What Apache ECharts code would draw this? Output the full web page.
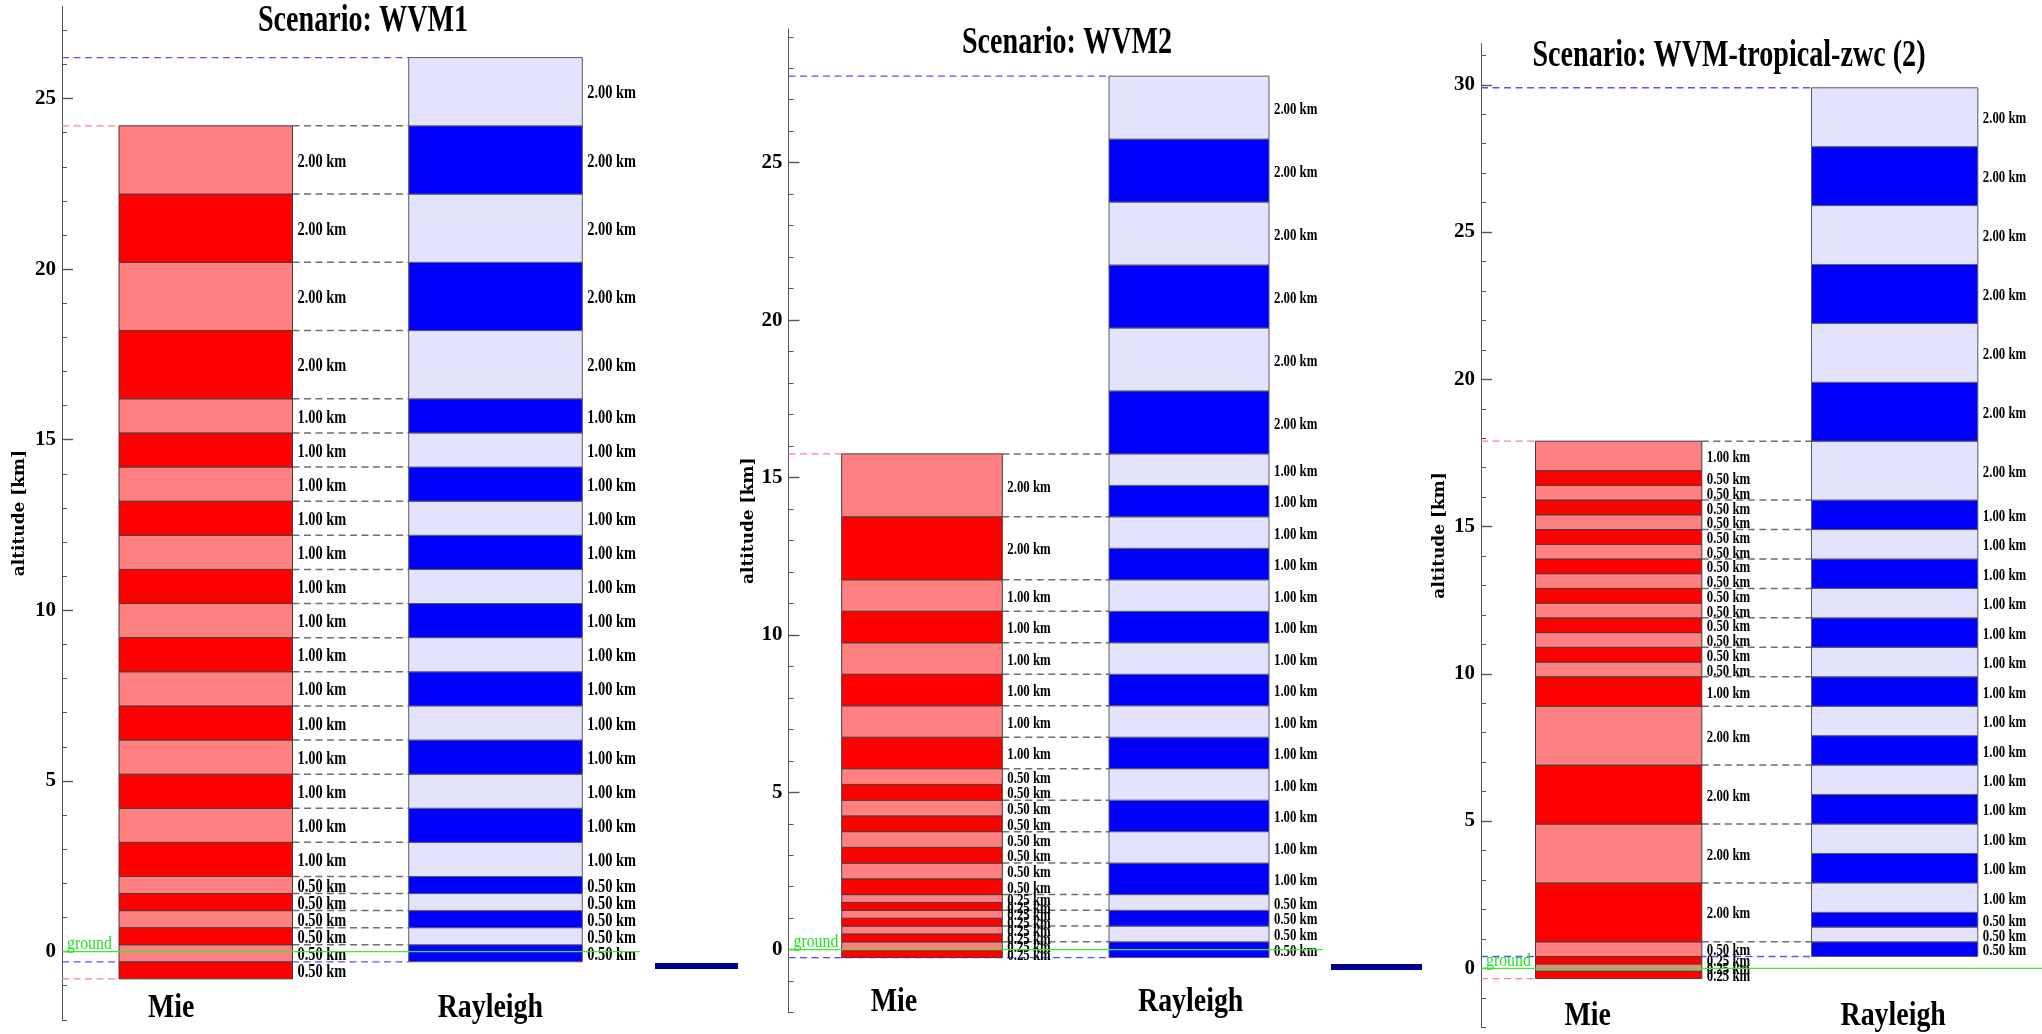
<!DOCTYPE html>
<html>
<head>
<meta charset="utf-8">
<title>Range-bin settings</title>
<script src="https://cdn.jsdelivr.net/npm/echarts@6/dist/echarts.min.js"></script>
<style>
  html, body { margin: 0; padding: 0; background: #ffffff; }
  #chart { width: 2042px; height: 1034px; }
</style>
</head>
<body>
<div id="chart"></div>
<script>
// ---------------------------------------------------------------------------
// Range-bin layers per scenario: thickness of each bin in km, lowest bin first,
// plus the altitude of the lowest bin edge.
// ---------------------------------------------------------------------------
const scenarioTitles = ['Scenario: WVM1', 'Scenario: WVM2', 'Scenario: WVM-tropical-zwc (2)'];
const columnNames = ['Mie', 'Rayleigh'];
const axisTitle = 'altitude [km]';
const groundLabel = 'ground';
const groundAltitude = 0;

const wvm1MieBase = -0.8;
const wvm1MieLayers = [0.5, 0.5, 0.5, 0.5, 0.5, 0.5,
  1, 1, 1, 1, 1, 1, 1, 1, 1, 1, 1, 1, 1, 1,
  2, 2, 2, 2];
const wvm1RayleighBase = -0.3;
const wvm1RayleighLayers = [0.5, 0.5, 0.5, 0.5, 0.5,
  1, 1, 1, 1, 1, 1, 1, 1, 1, 1, 1, 1, 1, 1,
  2, 2, 2, 2, 2];

const wvm2MieBase = -0.25;
const wvm2MieLayers = [0.25, 0.25, 0.25, 0.25, 0.25, 0.25, 0.25, 0.25,
  0.5, 0.5, 0.5, 0.5, 0.5, 0.5, 0.5, 0.5,
  1, 1, 1, 1, 1, 1,
  2, 2];
const wvm2RayleighBase = -0.25;
const wvm2RayleighLayers = [0.5, 0.5, 0.5, 0.5,
  1, 1, 1, 1, 1, 1, 1, 1, 1, 1, 1, 1, 1, 1,
  2, 2, 2, 2, 2, 2];

const tropicalMieBase = -0.35;
const tropicalMieLayers = [0.25, 0.25, 0.25, 0.5,
  2, 2, 2, 2,
  1,
  0.5, 0.5, 0.5, 0.5, 0.5, 0.5, 0.5, 0.5, 0.5, 0.5, 0.5, 0.5, 0.5, 0.5,
  1];
const tropicalRayleighBase = 0.4;
const tropicalRayleighLayers = [0.5, 0.5, 0.5,
  1, 1, 1, 1, 1, 1, 1, 1, 1, 1, 1, 1, 1, 1,
  2, 2, 2, 2, 2, 2, 2];

// Axis ticks (km)
const wvm1MinorTicks = [-2, -1, 0, 1, 2, 3, 4, 5, 6, 7, 8, 9, 10, 11, 12, 13, 14, 15, 16, 17, 18, 19, 20, 21, 22, 23, 24, 25, 26, 27];
const wvm1MajorTicks = [0, 5, 10, 15, 20, 25];
const wvm2MinorTicks = [-2, -1, 0, 1, 2, 3, 4, 5, 6, 7, 8, 9, 10, 11, 12, 13, 14, 15, 16, 17, 18, 19, 20, 21, 22, 23, 24, 25, 26, 27, 28, 29];
const wvm2MajorTicks = [0, 5, 10, 15, 20, 25];
const tropicalMinorTicks = [-2, -1, 0, 1, 2, 3, 4, 5, 6, 7, 8, 9, 10, 11, 12, 13, 14, 15, 16, 17, 18, 19, 20, 21, 22, 23, 24, 25, 26, 27, 28, 29, 30, 31];
const tropicalMajorTicks = [0, 5, 10, 15, 20, 25, 30];

// ---------------------------------------------------------------------------
// Layout of the three panels (pixels; x positions relative to the axis line)
// ---------------------------------------------------------------------------
const panels = [
  {
    grid: { left: 62, top: 6.4, width: 600, height: 1013.4 }, yMin: -2, yMax: 27.7,
    mieX: [57, 230.5], rayX: [346.7, 520.3], groundEnd: 578, labelSize: 18,
    titlePos: [363, 21], nameY: 1008, axisNameX: 20,
    mie: [wvm1MieBase, wvm1MieLayers], ray: [wvm1RayleighBase, wvm1RayleighLayers],
    minor: wvm1MinorTicks, major: wvm1MajorTicks
  },
  {
    grid: { left: 788.5, top: 28.9, width: 600, height: 983.75 }, yMin: -2, yMax: 29.25,
    mieX: [53.2, 213.8], rayX: [320.5, 480.5], groundEnd: 534.5, labelSize: 16,
    titlePos: [1067, 43], nameY: 1002, axisNameX: 749,
    mie: [wvm2MieBase, wvm2MieLayers], ray: [wvm2RayleighBase, wvm2RayleighLayers],
    minor: wvm2MinorTicks, major: wvm2MajorTicks
  },
  {
    grid: { left: 1481, top: 43.6, width: 561, height: 983.6 }, yMin: -2, yMax: 31.4,
    mieX: [54.5, 220.8], rayX: [330.5, 496.8], groundEnd: 561, labelSize: 16,
    titlePos: [1729, 56], nameY: 1016, axisNameX: 1440,
    mie: [tropicalMieBase, tropicalMieLayers], ray: [tropicalRayleighBase, tropicalRayleighLayers],
    minor: tropicalMinorTicks, major: tropicalMajorTicks
  }
];

const MIE_COLORS = { dark: '#FF0000', light: '#FF8080', edge: '#4A3A3A' };
const RAY_COLORS = { dark: '#0000FF', light: '#E3E3FB', edge: '#5A5A6A' };
const SERIF = '"Liberation Serif", "Times New Roman", serif';
const NARROW = 0.8;   // horizontal squeeze used for the serif annotations

// bin edges from a base altitude and a list of thicknesses
function edges(base, layers) {
  const out = [+base.toFixed(3)];
  let h = base;
  layers.forEach(t => { h += t; out.push(+h.toFixed(3)); });
  return out;
}
// one row per bin: [bottom, top, thickness]
function layerRows(base, layers) {
  const e = edges(base, layers);
  return layers.map((t, i) => [e[i], e[i + 1], t]);
}
// dashed level lines: kind 0 = shared edge (grey), 1 = Mie limits (red), 2 = Rayleigh limits (blue)
function levelRows(mie, ray) {
  const me = edges(mie[0], mie[1]);
  const re = edges(ray[0], ray[1]);
  const rows = [];
  me.forEach(h => {
    if (re.some(r => Math.abs(r - h) < 1e-6) && Math.abs(h - re[0]) > 1e-6) rows.push([h, 0]);
  });
  rows.push([me[0], 1], [me[me.length - 1], 1], [re[0], 2], [re[re.length - 1], 2]);
  return rows;
}

function columnRenderer(p, xr, colors) {
  return function (params, api) {
    const y0 = api.value(0), y1 = api.value(1), th = api.value(2);
    const tl = api.coord([xr[0], y1]);
    const br = api.coord([xr[1], y0]);
    const fill = params.dataIndex % 2 === 0 ? colors.dark : colors.light;
    return {
      type: 'group',
      children: [
        {
          type: 'rect',
          shape: { x: tl[0], y: tl[1], width: br[0] - tl[0], height: br[1] - tl[1] },
          style: { fill: fill, stroke: colors.edge, lineWidth: 1 }
        },
        {
          type: 'text',
          x: br[0] + 5, y: (tl[1] + br[1]) / 2 + 2,
          scaleX: NARROW,
          z2: 10,
          style: {
            text: th.toFixed(2) + ' km',
            font: 'bold ' + p.labelSize + 'px ' + SERIF,
            fill: '#000000',
            align: 'left', textAlign: 'left',
            verticalAlign: 'middle', textVerticalAlign: 'middle'
          }
        }
      ]
    };
  };
}

function levelRenderer(p) {
  return function (params, api) {
    const h = api.value(0), kind = api.value(1);
    let xa, xb, color, w;
    if (kind === 0) { xa = p.mieX[1]; xb = p.rayX[0]; color = '#6E6E6E'; w = 1.5; }
    else if (kind === 1) { xa = 0; xb = p.mieX[0]; color = '#FF8484'; w = 1.3; }
    else { xa = 0; xb = p.rayX[0]; color = '#5555FF'; w = 1.3; }
    const a = api.coord([xa, h]), b = api.coord([xb, h]);
    return {
      type: 'line',
      shape: { x1: a[0], y1: a[1], x2: b[0], y2: b[1] },
      style: { stroke: color, lineWidth: w, lineDash: [7, 4.5] }
    };
  };
}

function groundRenderer(p) {
  return function (params, api) {
    const h = api.value(0);
    const a = api.coord([0, h]), b = api.coord([p.groundEnd, h]);
    return {
      type: 'group',
      children: [
        { type: 'line', shape: { x1: a[0], y1: a[1], x2: b[0], y2: b[1] },
          style: { stroke: '#33EE33', lineWidth: 1.2 } },
        { type: 'text', x: a[0] + 5, y: a[1] + 2, scaleX: 0.88,
          style: { text: groundLabel, font: '18px ' + SERIF, fill: '#22E022',
                   align: 'left', textAlign: 'left', verticalAlign: 'bottom', textVerticalAlign: 'bottom' } }
      ]
    };
  };
}

const grids = [], xAxes = [], yAxes = [], series = [], graphics = [];

panels.forEach((p, k) => {
  grids.push(Object.assign({ containLabel: false }, p.grid));
  xAxes.push({ type: 'value', gridIndex: k, min: 0, max: p.grid.width, show: false });
  // main axis: line, unit ticks, labels every 5 km
  yAxes.push({
    type: 'value', gridIndex: k, min: p.yMin, max: p.yMax, position: 'left',
    axisLine: { show: true, lineStyle: { color: '#555', width: 1 } },
    axisTick: { show: true, inside: true, length: 5, customValues: p.minor, lineStyle: { color: '#555', width: 1 } },
    axisLabel: { show: true, customValues: p.major, margin: 6,
      fontFamily: 'Liberation Serif', fontWeight: 'bold', fontSize: 21, color: '#000' },
    splitLine: { show: false }
  });
  // overlay axis carrying the longer ticks at every 5 km
  yAxes.push({
    type: 'value', gridIndex: k, min: p.yMin, max: p.yMax, position: 'left',
    axisLine: { show: false },
    axisTick: { show: true, inside: true, length: 11, customValues: p.major, lineStyle: { color: '#555', width: 1.4 } },
    axisLabel: { show: false },
    splitLine: { show: false }
  });

  series.push({
    type: 'custom', name: 'levels', xAxisIndex: k, yAxisIndex: 2 * k, z: 1,
    renderItem: levelRenderer(p), data: levelRows(p.mie, p.ray), silent: true
  });
  series.push({
    type: 'custom', name: columnNames[0], xAxisIndex: k, yAxisIndex: 2 * k, z: 2,
    renderItem: columnRenderer(p, p.mieX, MIE_COLORS), data: layerRows(p.mie[0], p.mie[1]), silent: true
  });
  series.push({
    type: 'custom', name: columnNames[1], xAxisIndex: k, yAxisIndex: 2 * k, z: 2,
    renderItem: columnRenderer(p, p.rayX, RAY_COLORS), data: layerRows(p.ray[0], p.ray[1]), silent: true
  });
  series.push({
    type: 'custom', name: 'ground', xAxisIndex: k, yAxisIndex: 2 * k, z: 3,
    renderItem: groundRenderer(p), data: [[groundAltitude]], silent: true
  });

  // panel title
  graphics.push({
    type: 'text', x: p.titlePos[0], y: p.titlePos[1], scaleX: 0.76,
    style: { text: scenarioTitles[k], font: 'bold 37px ' + SERIF, fill: '#000',
             align: 'center', textAlign: 'center', verticalAlign: 'middle', textVerticalAlign: 'middle' }
  });
  // vertical axis title, centred on the axis
  graphics.push({
    type: 'text', x: p.axisNameX, y: p.grid.top + p.grid.height / 2, rotation: Math.PI / 2,
    style: { text: axisTitle, font: 'bold 17px "DejaVu Serif", serif', fill: '#000',
             align: 'center', textAlign: 'center', verticalAlign: 'middle', textVerticalAlign: 'middle' }
  });
  // column names under the bars
  [p.mieX, p.rayX].forEach((xr, c) => {
    graphics.push({
      type: 'text', x: p.grid.left + xr[0] + 29, y: p.nameY, scaleX: 0.82,
      style: { text: columnNames[c], font: 'bold 34px ' + SERIF, fill: '#000',
               align: 'left', textAlign: 'left', verticalAlign: 'middle', textVerticalAlign: 'middle' }
    });
  });
});

// short navy strokes between the panels
graphics.push({ type: 'rect', shape: { x: 655, y: 963, width: 83, height: 6 }, style: { fill: '#00008C' } });
graphics.push({ type: 'rect', shape: { x: 1331, y: 964, width: 91, height: 6 }, style: { fill: '#00008C' } });

const chart = echarts.init(document.getElementById('chart'), null, { renderer: 'canvas' });
chart.setOption({
  backgroundColor: '#ffffff',
  animation: false,
  grid: grids,
  xAxis: xAxes,
  yAxis: yAxes,
  series: series,
  graphic: graphics
});
</script>
</body>
</html>
